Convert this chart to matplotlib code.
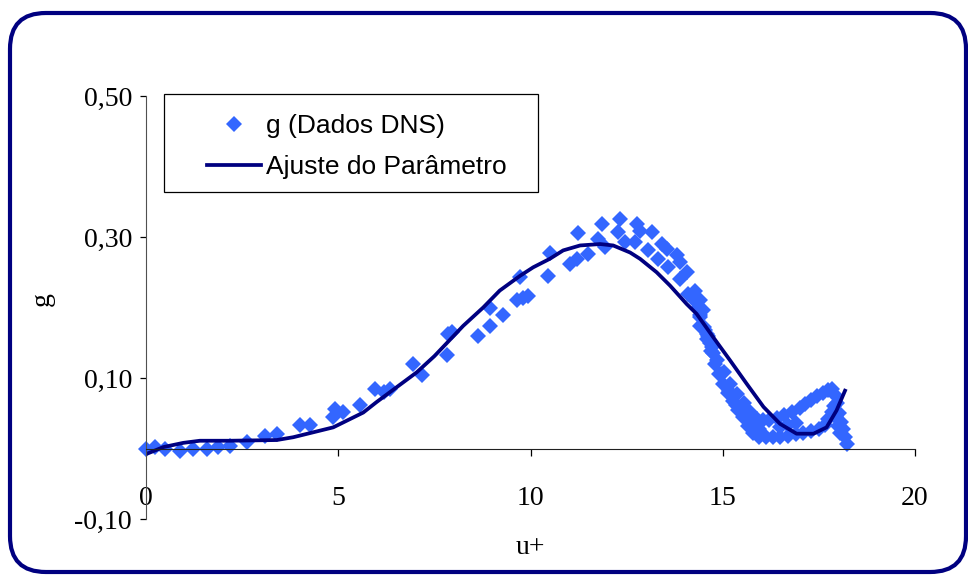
import matplotlib
matplotlib.use("Agg")
import matplotlib.pyplot as plt
from matplotlib.patches import FancyBboxPatch, Rectangle
from matplotlib.ticker import FuncFormatter

# ---- dados DNS (u+, g) ----
u_dns = [
    0.0, 0.23, 0.49, 0.88, 1.23, 1.58, 1.88, 2.18, 2.62, 3.1, 3.4, 4.0, 4.27,
    4.87, 4.92, 5.13, 5.57, 5.96, 6.2, 6.35, 6.95, 7.17, 7.82, 7.86, 7.95,
    8.64, 8.95, 8.95, 9.29, 9.64, 9.73, 9.8, 9.94,
    10.46, 10.5, 11.03, 11.2, 11.24, 11.5, 11.76, 11.85, 11.94, 12.28, 12.33, 12.46,
    12.72, 12.76, 12.85, 13.06, 13.15, 13.32, 13.41, 13.54, 13.58, 13.8, 13.89, 13.89,
    14.06, 14.1, 14.28, 14.41, 14.41, 14.49, 14.62, 14.67,
    # ramo superior
    14.25, 14.42, 14.59, 14.72, 14.85, 15.02, 15.2, 15.37, 15.55, 15.72, 15.89,
    16.05, 16.2, 16.4, 16.6, 16.8, 17.0, 17.15, 17.3, 17.45, 17.6, 17.75, 17.85,
    # ramo intermediario
    14.35, 14.55, 14.75, 14.95, 15.15, 15.35, 15.55, 15.75, 15.95, 16.5, 16.7, 16.9,
    # ramo inferior
    14.4, 14.5, 14.6, 14.7, 14.8, 14.9, 15.0, 15.13, 15.26, 15.4, 15.52, 15.65,
    15.78, 15.95, 16.12, 16.3, 16.5, 16.7, 16.9, 17.1, 17.3, 17.5, 17.65, 17.75,
    17.85,
    # queda final
    17.92, 17.97, 18.02, 18.07, 18.12, 18.17, 18.22, 17.9, 17.95, 18.0, 18.05,
]
g_dns = [
    0.0, 0.002, 0.0, -0.003, 0.0, 0.0, 0.002, 0.004, 0.009, 0.018, 0.02, 0.033, 0.033,
    0.044, 0.056, 0.052, 0.061, 0.085, 0.08, 0.085, 0.12, 0.104, 0.132, 0.163, 0.165,
    0.16, 0.174, 0.2, 0.189, 0.21, 0.243, 0.213, 0.217,
    0.245, 0.278, 0.262, 0.269, 0.305, 0.276, 0.297, 0.319, 0.286, 0.307, 0.326, 0.293,
    0.293, 0.319, 0.309, 0.281, 0.307, 0.269, 0.29, 0.283, 0.257, 0.274, 0.264, 0.241,
    0.25, 0.219, 0.224, 0.21, 0.174, 0.196, 0.16, 0.149,
    0.21, 0.186, 0.163, 0.144, 0.125, 0.108, 0.092, 0.078, 0.064, 0.052, 0.042,
    0.04, 0.041, 0.043, 0.047, 0.052, 0.058, 0.063, 0.069, 0.074, 0.079, 0.083, 0.084,
    0.2, 0.168, 0.135, 0.105, 0.082, 0.062, 0.047, 0.036, 0.028, 0.03, 0.033, 0.036,
    0.19, 0.172, 0.155, 0.138, 0.12, 0.105, 0.092, 0.079, 0.068, 0.055, 0.044, 0.032,
    0.022, 0.017, 0.016, 0.016, 0.017, 0.018, 0.02, 0.022, 0.025, 0.028, 0.033, 0.042,
    0.052,
    0.076, 0.065, 0.05, 0.038, 0.027, 0.016, 0.006, 0.06, 0.045, 0.032, 0.022,
]

# ---- ajuste do parametro ----
u_fit = [0.0, 0.45, 0.97, 1.4, 2.18, 3.4, 3.83, 4.35, 4.87, 5.65, 6.0, 6.52, 7.04,
         7.5, 8.25, 8.77, 9.2, 9.73, 10.07, 10.5, 10.85, 11.29, 11.81, 12.15, 12.59,
         12.85, 13.28, 13.63, 14.06, 14.32, 14.75, 15.19, 15.62, 16.06, 16.49, 16.92,
         17.36, 17.7, 17.96, 18.18]
g_fit = [-0.008, 0.002, 0.008, 0.011, 0.011, 0.012, 0.016, 0.023, 0.03, 0.051, 0.066,
         0.087, 0.108, 0.131, 0.174, 0.2, 0.224, 0.245, 0.257, 0.269, 0.281, 0.288,
         0.29, 0.288, 0.278, 0.269, 0.25, 0.231, 0.205, 0.191, 0.158, 0.125, 0.092,
         0.059, 0.035, 0.021, 0.021, 0.03, 0.054, 0.082]

x_ticks = [0, 5, 10, 15, 20]
y_ticks = [-0.10, 0.10, 0.30, 0.50]

W, H = 968, 575
fig = plt.figure(figsize=(W / 100, H / 100), dpi=100)
ax = fig.add_axes([146 / W, 1 - 519 / H, (915 - 146) / W, (519 - 96) / H])

ax.plot(u_dns, g_dns, linestyle="none", marker="D", markersize=8,
        color="#3366FF", markeredgewidth=0, clip_on=False, label="g (Dados DNS)")
ax.plot(u_fit, g_fit, color="#000080", linewidth=2.7, label="Ajuste do Parâmetro")

ax.set_xlim(0, 20)
ax.set_ylim(-0.10, 0.50)
ax.set_xticks(x_ticks)
ax.set_yticks(y_ticks)
ax.yaxis.set_major_formatter(FuncFormatter(lambda v, p: f"{v:.2f}".replace(".", ",")))

for s in ["top", "right"]:
    ax.spines[s].set_visible(False)
ax.spines["bottom"].set_position(("data", 0))
ax.spines["bottom"].set_color("#202020")
ax.spines["left"].set_color("#505050")

tick_font = {"family": "Liberation Serif", "size": 20}
for lbl in ax.get_xticklabels() + ax.get_yticklabels():
    lbl.set_fontfamily("Liberation Serif")
    lbl.set_fontsize(20)
ax.tick_params(axis="x", direction="out", length=5, width=0.9, pad=22)
ax.tick_params(axis="y", direction="out", length=4, width=0.9, pad=6)

ax.set_xlabel("u+", fontdict=tick_font)
ax.xaxis.label.set_va("center")
ax.xaxis.set_label_coords(0.5, -0.068)
ax.set_ylabel("g", fontdict=tick_font)
ax.yaxis.label.set_va("center")
ax.yaxis.set_label_coords(-0.135, 0.52)

leg = ax.legend(loc="upper left", bbox_to_anchor=(186 / W, 1 - 93 / H),
                bbox_transform=fig.transFigure, frameon=False, numpoints=1,
                prop={"family": "Liberation Sans", "size": 19},
                handlelength=2.05, handletextpad=0.2, labelspacing=0.65,
                borderpad=0.3)
fig.add_artist(Rectangle((164 / W, 1 - 192 / H), (538 - 164) / W, (192 - 94) / H,
                         transform=fig.transFigure, fill=False,
                         edgecolor="black", linewidth=0.9))

# moldura arredondada em volta do grafico
fig.add_artist(FancyBboxPatch((10 / W, 3 / H), (966 - 10) / W, (562 - 3) / H,
                              boxstyle="round,pad=0,rounding_size=0.037",
                              mutation_aspect=W / H, transform=fig.transFigure,
                              fill=False, edgecolor="#000080", linewidth=3))

fig.savefig("out.png", dpi=100)
